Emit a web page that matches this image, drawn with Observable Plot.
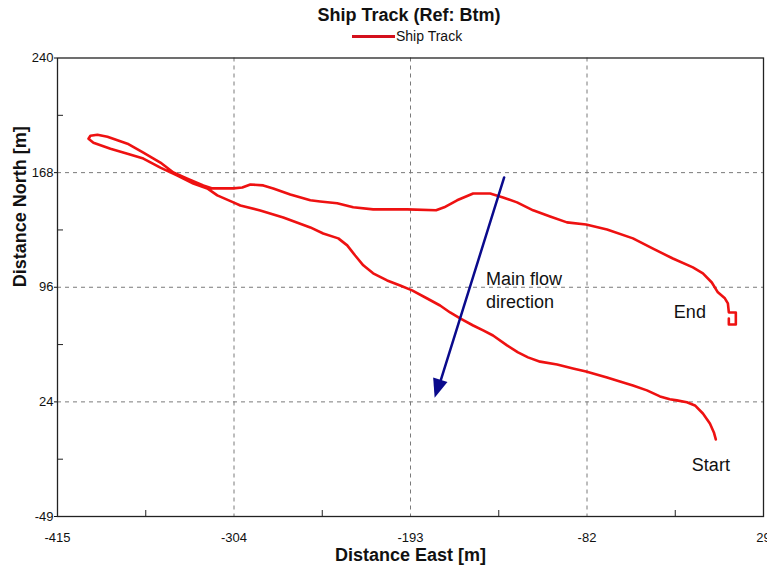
<!DOCTYPE html>
<html><head><meta charset="utf-8">
<script src="https://cdn.jsdelivr.net/npm/d3@7"></script>
<script src="https://cdn.jsdelivr.net/npm/@observablehq/plot@0.6"></script>
<style>
body{margin:0;background:#fff;}
#wrap{position:relative;width:767px;height:569px;overflow:hidden;font-family:"Liberation Sans",Arial,sans-serif;color:#111;}
#chart{position:absolute;left:0;top:0;}
#title{position:absolute;left:209px;width:400px;top:6px;text-align:center;font-weight:bold;font-size:18px;line-height:18px;}
#legend{position:absolute;left:352px;top:29px;display:flex;align-items:center;font-size:14px;line-height:14px;}
#legend .sw{display:inline-block;width:43px;height:3px;background:#d4101c;margin-right:1px;}
</style></head>
<body>
<div id="wrap"><div id="chart"></div><div id="title"></div><div id="legend"><span class="sw"></span><span id="legtext"></span></div></div>
<script>
// ---- data ----
const titleText = "Ship Track (Ref: Btm)";
const seriesName = "Ship Track";
const xLabel = "Distance East [m]";
const yLabel = "Distance North [m]";

const xDomain = [-415, 29];
const yDomain = [-48.5, 240.5];
const xTicks = [-415, -304, -193, -82, 29];
const xTickLabels = ["-415", "-304", "-193", "-82", "29"];
const yTicks = [-48.5, 23.75, 96, 168.25, 240.5];
const yTickLabels = ["-49", "24", "96", "168", "240"];
const xGrid = [-304, -193, -82];
const yGrid = [23.75, 96, 168.25];
const xMinor = [-359.5, -248.5, -137.5, -26.5];
const yMinor = [-12.375, 59.875, 132.125, 204.375];

// ship track, from Start to End
const east = [
  -1.0, -2.2, -4.7, -9.1, -14.1, -19.2, -25.5, -29.9, -36.1, -44.3,
  -53.1, -61.3, -69.4, -82.6, -90.8, -100.8, -111.5, -119.1, -125.4, -132.3,
  -141.1, -147.3, -153.6, -161.8, -168.1, -174.4, -182.5, -192.0, -199.5, -207.7,
  -216.5, -222.7, -227.8, -232.8, -238.4, -247.9, -256.0, -273.0, -287.5, -300.0,
  -304.4, -314.5, -320.8, -329.6, -339.6, -350.3, -361.0, -371.0, -381.7, -392.4,
  -395.5, -394.3, -389.9, -383.6, -371.0, -361.0, -350.3, -342.1, -333.3, -323.3,
  -317.6, -304.4, -298.8, -293.7, -285.6, -279.3, -268.6, -256.0, -249.8, -239.1,
  -229.0, -216.5, -195.1, -176.9, -171.8, -163.7, -153.6, -142.9, -134.8, -126.0,
  -115.9, -105.2, -94.6, -82.6, -69.4, -53.1, -40.5, -28.0, -15.4, -9.1,
  -3.5, 0.3, 4.7, 6.6, 7.2, 11.6, 11.6, 7.2, 7.2
];
const north = [
  0.1, 4.5, 10.1, 16.4, 21.5, 23.5, 24.7, 25.4, 27.2, 31.0,
  34.1, 36.6, 39.1, 42.9, 44.8, 47.3, 49.1, 51.8, 54.9, 59.4,
  65.6, 68.8, 71.9, 76.4, 80.1, 84.5, 88.9, 94.0, 97.1, 100.3,
  104.8, 109.8, 116.0, 122.4, 126.8, 129.9, 133.7, 140.0, 144.4, 147.5,
  149.5, 153.9, 158.3, 161.4, 166.4, 171.4, 177.1, 180.2, 183.3, 187.1,
  189.6, 191.5, 192.1, 190.8, 186.5, 180.8, 174.6, 168.3, 164.5, 160.2,
  158.3, 158.3, 158.9, 160.8, 160.2, 158.3, 154.5, 150.8, 150.1, 148.9,
  146.4, 145.1, 145.1, 144.5, 146.4, 150.8, 155.1, 155.1, 152.6, 149.5,
  144.5, 140.6, 136.9, 135.5, 132.4, 126.8, 120.4, 114.1, 108.5, 104.8,
  99.0, 92.8, 89.0, 85.8, 80.1, 80.1, 72.5, 72.5, 76.3
];

const pointLabels = [
  {x: -17.3, y: 80.1, text: "End"},
  {x: -4.1, y: -16.1, text: "Start"}
];
const flowLabel = [{x: -145.5, y: 94.8, text: "Main flow\ndirection"}];
const flowArrow = [{x1: -134.1, y1: 165.2, x2: -177.5, y2: 26.0}];

// ---- build ----
const track = east.map((e, i) => ({e, n: north[i]}));
const red = "#ee1111";
const navy = "#0a0a8c";
const headLen = 19, headHalf = 7.5;

const arrowHead = (index, scales) => {
  const ns = "http://www.w3.org/2000/svg";
  const g = document.createElementNS(ns, "g");
  for (const a of flowArrow) {
    const x1 = scales.x(a.x1), y1 = scales.y(a.y1), x2 = scales.x(a.x2), y2 = scales.y(a.y2);
    const L = Math.hypot(x2 - x1, y2 - y1), ux = (x2 - x1) / L, uy = (y2 - y1) / L;
    const bx = x2 - ux * headLen, by = y2 - uy * headLen;
    const p = document.createElementNS(ns, "polygon");
    p.setAttribute("points", `${x2},${y2} ${bx - uy * headHalf},${by + ux * headHalf} ${bx + uy * headHalf},${by - ux * headHalf}`);
    p.setAttribute("fill", navy);
    g.appendChild(p);
  }
  return g;
};

const chart = Plot.plot({
  width: 767, height: 569,
  marginLeft: 57, marginRight: 4, marginTop: 57.5, marginBottom: 53,
  x: {domain: xDomain},
  y: {domain: yDomain},
  style: {fontFamily: "Liberation Sans, Arial, sans-serif", fontSize: "13px", color: "#111", background: "white", overflow: "visible"},
  marks: [
    Plot.ruleX(xGrid, {stroke: "#7a7a7a", strokeWidth: 1, strokeDasharray: "4,4"}),
    Plot.ruleY(yGrid, {stroke: "#7a7a7a", strokeWidth: 1, strokeDasharray: "4,4"}),
    Plot.tickX(xMinor, {x: d => d, stroke: "#222", insetTop: 452.5}),
    Plot.tickY(yMinor, {y: d => d, stroke: "#222", insetRight: 700}),
    Plot.axisX({ticks: xTicks, tickSize: 0, tickPadding: 16, tickFormat: d => xTickLabels[xTicks.indexOf(d)], label: null, fontSize: 13}),
    Plot.axisY({ticks: yTicks, tickSize: 3, tickPadding: 1, tickFormat: d => yTickLabels[yTicks.indexOf(d)], label: null, fontSize: 13}),
    Plot.frame({stroke: "#222", strokeWidth: 1.3}),
    Plot.line(track, {x: "e", y: "n", stroke: red, strokeWidth: 2.6, strokeLinejoin: "round"}),
    Plot.arrow(flowArrow, {x1: "x1", y1: "y1", x2: "x2", y2: "y2", stroke: navy, strokeWidth: 2.5, headLength: 0, insetEnd: 14}),
    arrowHead,
    Plot.text(flowLabel, {x: "x", y: "y", text: "text", textAnchor: "start", lineAnchor: "middle", lineHeight: 1.25, fontSize: 18, fill: "#111"}),
    Plot.text(pointLabels, {x: "x", y: "y", text: "text", fontSize: 18, fill: "#111"}),
    Plot.text([xLabel], {text: d => d, frameAnchor: "bottom", dy: 44, fontSize: 18, fontWeight: "bold", fill: "#111"}),
    Plot.text([yLabel], {text: d => d, frameAnchor: "left", dx: -37, rotate: -90, fontSize: 18, fontWeight: "bold", fill: "#111"})
  ]
});
document.getElementById("chart").appendChild(chart);
document.getElementById("title").textContent = titleText;
document.getElementById("legtext").textContent = seriesName;
</script>
</body></html>
